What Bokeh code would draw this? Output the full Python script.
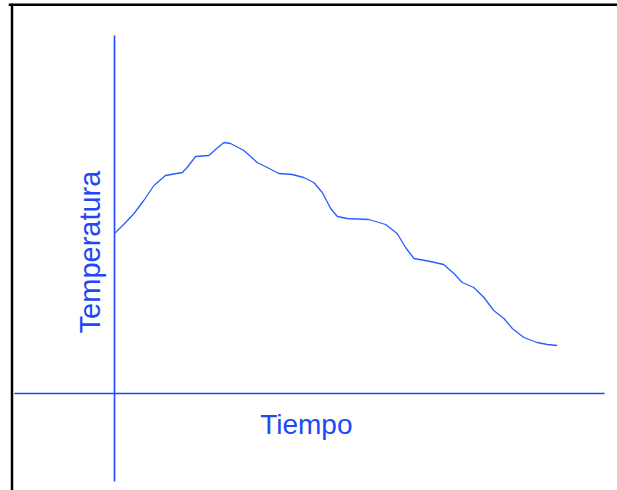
from bokeh.plotting import figure
from bokeh.models import Range1d, Span, Label
from bokeh.embed import file_html
from bokeh.resources import INLINE
import math

# Data (time units, temperature units)
tiempo = [0.00, 0.25, 0.44, 0.66, 0.89, 1.15, 1.53, 1.64, 1.83, 2.13, 2.28, 2.47,
          2.62, 2.92, 3.22, 3.45, 3.71, 4.01, 4.27, 4.50, 4.69, 4.88, 5.03, 5.25,
          5.74, 6.12, 6.38, 6.57, 6.76, 7.13, 7.43, 7.66, 7.85, 8.11, 8.34, 8.56,
          8.79, 8.98, 9.24, 9.54, 9.77, 9.99]
temperatura = [16.0, 17.1, 18.0, 19.3, 20.8, 21.8, 22.1, 22.6, 23.7, 23.8, 24.4, 25.1,
               25.0, 24.3, 23.1, 22.6, 22.0, 21.9, 21.6, 21.1, 20.1, 18.5, 17.7, 17.5,
               17.4, 16.9, 16.0, 14.6, 13.5, 13.2, 12.9, 12.0, 11.1, 10.6, 9.6, 8.3,
               7.5, 6.5, 5.6, 5.1, 4.9, 4.8]

eje_x = [-2.26, 11.06]   # horizontal axis extent (time)
eje_y = [-8.8, 35.8]     # vertical axis extent (temperature)
etiqueta_x = "Tiempo"
etiqueta_y = "Temperatura"

AZUL = "#2048f8"
AZUL_LINEA = "#2a5cff"

p = figure(width=609, height=487,
           x_range=Range1d(-2.393, 11.354), y_range=Range1d(-9.7, 39.0),
           x_axis_type=None, y_axis_type=None,
           min_border=0, toolbar_location=None, output_backend="svg")
p.grid.visible = False
p.outline_line_color = None
p.background_fill_color = "white"
p.border_fill_color = "white"
p.styles = {"position": "absolute", "left": "8px", "top": "3px"}

# frame border (black, top and left)
p.add_layout(Span(location=38.9, dimension="width", line_color="black", line_width=3))
p.add_layout(Span(location=-2.314, dimension="height", line_color="black", line_width=2.5))

# axes lines
p.line([0, 0], eje_y, line_color=AZUL, line_width=1.6)
p.line(eje_x, [0, 0], line_color=AZUL, line_width=1.6)

# curve
p.line(tiempo, temperatura, line_color=AZUL_LINEA, line_width=1.3,
       line_join="round")

# labels
p.add_layout(Label(x=4.33, y=-3.1, text=etiqueta_x, text_align="center",
                   text_baseline="alphabetic", text_font="Liberation Sans",
                   text_font_size="28px", text_color=AZUL))
p.add_layout(Label(x=-0.56, y=14.15, text=etiqueta_y, angle=math.pi / 2,
                   text_align="center", text_baseline="alphabetic",
                   text_font="Liberation Sans", text_font_size="29px",
                   text_color=AZUL))

open("out.html", "w").write(file_html(p, INLINE))
